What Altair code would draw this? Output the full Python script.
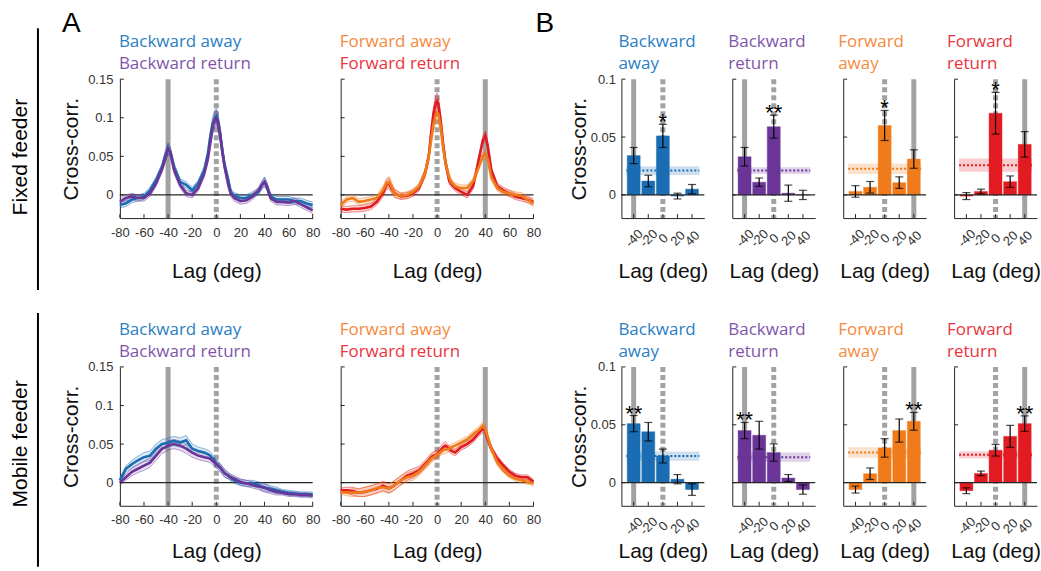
import altair as alt
import pandas as pd

# ---------------- data: cross-correlation curves (panel A) ----------------
LAGS = [-80, -75, -70, -65, -60, -55, -50, -45, -42, -40, -38,
        -35, -30, -25, -20, -15, -10, -7, -5, -3, -1, 0,
        1, 3, 5, 7, 10, 12, 15, 20, 25, 30, 35,
        38, 40, 42, 45, 50, 55, 60, 65, 70, 75, 80]

FIX_BACK_AWAY = [-0.013, -0.011, -0.006, -0.004, -0.002, 0.006, 0.019, 0.036, 0.053, 0.060, 0.055,
                 0.036, 0.017, 0.013, 0.006, 0.015, 0.032, 0.053, 0.075, 0.092, 0.100, 0.102,
                 0.098, 0.082, 0.058, 0.038, 0.019, 0.004, -0.001, -0.004, -0.004, 0.000, 0.004,
                 0.013, 0.017, 0.011, -0.002, -0.006, -0.006, -0.006, -0.008, -0.008, -0.011, -0.013]
FIX_BACK_RET = [-0.009, -0.004, -0.002, -0.004, -0.004, 0.002, 0.015, 0.034, 0.049, 0.060, 0.055,
                0.032, 0.013, 0.002, 0.000, 0.009, 0.028, 0.047, 0.068, 0.088, 0.098, 0.100,
                0.096, 0.080, 0.056, 0.036, 0.013, 0.002, -0.004, -0.008, -0.007, -0.002, 0.006,
                0.013, 0.017, 0.011, -0.004, -0.009, -0.009, -0.010, -0.008, -0.012, -0.016, -0.020]
FIX_FWD_AWAY = [-0.013, -0.006, -0.004, -0.009, -0.008, -0.006, -0.004, 0.006, 0.015, 0.017, 0.011,
                0.001, -0.001, 0.000, 0.004, 0.011, 0.028, 0.049, 0.071, 0.092, 0.104, 0.107,
                0.105, 0.088, 0.062, 0.041, 0.023, 0.016, 0.011, 0.009, 0.009, 0.018, 0.038,
                0.051, 0.053, 0.047, 0.023, 0.009, 0.004, 0.002, 0.000, -0.001, -0.006, -0.011]
FIX_FWD_RET = [-0.018, -0.019, -0.018, -0.018, -0.017, -0.015, -0.009, 0.002, 0.013, 0.015, 0.009,
               0.002, -0.002, -0.001, 0.002, 0.009, 0.028, 0.049, 0.079, 0.105, 0.120, 0.122,
               0.118, 0.096, 0.066, 0.042, 0.019, 0.014, 0.009, 0.004, 0.000, 0.012, 0.049,
               0.071, 0.077, 0.064, 0.032, 0.011, 0.006, 0.002, -0.002, -0.004, -0.006, -0.009]
MOB_BACK_AWAY = [0.003, 0.018, 0.024, 0.029, 0.033, 0.035, 0.044, 0.050, 0.051, 0.052, 0.053,
                 0.054, 0.052, 0.055, 0.044, 0.041, 0.039, 0.037, 0.035, 0.031, 0.027, 0.024,
                 0.023, 0.020, 0.016, 0.012, 0.009, 0.006, 0.003, 0.000, -0.001, -0.001, -0.003,
                 -0.005, -0.006, -0.007, -0.008, -0.010, -0.012, -0.013, -0.014, -0.015, -0.015, -0.015]
MOB_BACK_RET = [0.000, 0.007, 0.014, 0.018, 0.022, 0.026, 0.035, 0.044, 0.046, 0.048, 0.049,
                0.050, 0.048, 0.044, 0.039, 0.035, 0.033, 0.032, 0.031, 0.028, 0.026, 0.024,
                0.023, 0.020, 0.016, 0.012, 0.009, 0.007, 0.005, 0.001, -0.001, -0.003, -0.005,
                -0.006, -0.007, -0.008, -0.010, -0.012, -0.013, -0.015, -0.015, -0.016, -0.016, -0.017]
MOB_FWD_AWAY = [-0.012, -0.013, -0.013, -0.013, -0.012, -0.010, -0.007, -0.006, -0.007, -0.008, -0.006,
                -0.003, 0.003, 0.007, 0.009, 0.014, 0.022, 0.027, 0.031, 0.033, 0.035, 0.036,
                0.037, 0.040, 0.042, 0.043, 0.044, 0.046, 0.048, 0.052, 0.056, 0.063, 0.069,
                0.074, 0.069, 0.059, 0.044, 0.026, 0.016, 0.009, 0.005, 0.003, 0.001, -0.001]
MOB_FWD_RET = [-0.010, -0.010, -0.011, -0.013, -0.012, -0.010, -0.008, -0.004, -0.006, -0.007, -0.006,
               -0.003, 0.003, 0.009, 0.012, 0.016, 0.024, 0.029, 0.033, 0.035, 0.036, 0.037,
               0.039, 0.042, 0.046, 0.048, 0.044, 0.041, 0.039, 0.046, 0.050, 0.056, 0.065,
               0.070, 0.067, 0.056, 0.044, 0.031, 0.022, 0.014, 0.009, 0.007, 0.007, 0.001]
SEM_FIX = [0.004, 0.004, 0.004, 0.004, 0.004, 0.004, 0.004, 0.005, 0.006, 0.007, 0.006,
           0.005, 0.004, 0.004, 0.004, 0.004, 0.005, 0.006, 0.008, 0.009, 0.010, 0.010,
           0.010, 0.009, 0.008, 0.006, 0.005, 0.004, 0.004, 0.004, 0.004, 0.004, 0.004,
           0.005, 0.006, 0.005, 0.004, 0.004, 0.004, 0.004, 0.004, 0.004, 0.004, 0.004]
SEM_MOB = [0.003, 0.004, 0.005, 0.005, 0.006, 0.006, 0.006, 0.006, 0.006, 0.006, 0.006,
           0.006, 0.006, 0.006, 0.006, 0.005, 0.005, 0.005, 0.005, 0.005, 0.005, 0.005,
           0.005, 0.005, 0.005, 0.005, 0.004, 0.004, 0.004, 0.004, 0.004, 0.004, 0.004,
           0.005, 0.005, 0.005, 0.004, 0.004, 0.003, 0.003, 0.003, 0.003, 0.003, 0.003]

# ---------------- data: bar summaries (panel B) ----------------
BAR_LAGS = [-40, -20, 0, 20, 40]

FIX_BA_MEAN = [0.034, 0.012, 0.051, -0.001, 0.005]
FIX_BA_ERR = [0.007, 0.005, 0.010, 0.0025, 0.004]
FIX_BR_MEAN = [0.033, 0.011, 0.059, 0.0015, 0.000]
FIX_BR_ERR = [0.008, 0.0036, 0.010, 0.007, 0.004]
FIX_FA_MEAN = [0.003, 0.0066, 0.060, 0.0106, 0.031]
FIX_FA_ERR = [0.005, 0.005, 0.013, 0.005, 0.008]
FIX_FR_MEAN = [-0.001, 0.003, 0.0706, 0.0114, 0.0437]
FIX_FR_ERR = [0.003, 0.002, 0.018, 0.005, 0.011]
FIX_BASE = [0.021, 0.021, 0.0226, 0.0257]
FIX_BASE_ERR = [0.0037, 0.003, 0.0046, 0.0057]
FIX_STARS = [["", "", "*", "", ""], ["", "", "**", "", ""],
             ["", "", "*", "", ""], ["", "", "*", "", ""]]

MOB_BA_MEAN = [0.051, 0.044, 0.023, 0.003, -0.006]
MOB_BA_ERR = [0.007, 0.008, 0.006, 0.004, 0.005]
MOB_BR_MEAN = [0.045, 0.041, 0.026, 0.004, -0.006]
MOB_BR_ERR = [0.007, 0.012, 0.0075, 0.003, 0.004]
MOB_FA_MEAN = [-0.006, 0.0077, 0.030, 0.045, 0.053]
MOB_FA_ERR = [0.003, 0.005, 0.008, 0.010, 0.0077]
MOB_FR_MEAN = [-0.007, 0.008, 0.028, 0.040, 0.051]
MOB_FR_ERR = [0.0025, 0.002, 0.005, 0.0095, 0.0067]
MOB_BASE = [0.023, 0.022, 0.026, 0.024]
MOB_BASE_ERR = [0.004, 0.004, 0.0045, 0.003]
MOB_STARS = [["**", "", "", "", ""], ["**", "", "", "", ""],
             ["", "", "", "", "**"], ["", "", "", "", "**"]]

SERIES_NAMES = ["Backward away", "Backward return", "Forward away", "Forward return"]
B_TITLES = [["Backward", "away"], ["Backward", "return"], ["Forward", "away"], ["Forward", "return"]]

# ---------------- style ----------------
BLUE, PURPLE, ORANGE, RED = "#1a6db3", "#6b3598", "#ef7b1a", "#e21b23"
BLUE_T, PURPLE_T, ORANGE_T, RED_T = "#2a80c4", "#7f55ab", "#f58a3c", "#ea3540"
COLORS = [BLUE, PURPLE, ORANGE, RED]
TCOLORS = [BLUE_T, PURPLE_T, ORANGE_T, RED_T]
FONT = "Liberation Sans"
TFONT = "Open Sans"
AXC = "#262626"
GRAY = "#a2a2a2"
W_A, W_B, H = 193, 83, 139


def lbl(text, x, y, color="black", size=17, font=TFONT, align="left", baseline="alphabetic", angle=0):
    return alt.Chart(pd.DataFrame({"t": [text]})).mark_text(
        color=color, fontSize=size, font=font, align=align, baseline=baseline, angle=angle
    ).encode(x=alt.value(x), y=alt.value(y), text="t:N")


def line_panel(series, sem, solid_ref, show_y, extras, title_y):
    xs = alt.Scale(domain=[-80, 80], nice=False, zero=False)
    ys = alt.Scale(domain=[-0.03, 0.15], nice=False, zero=False)
    xax = alt.Axis(values=[-80, -60, -40, -20, 0, 20, 40, 60, 80], labelExpr="'' + datum.value",
                   labelFlush=False, labelOverlap=False, ticks=False, tickSize=0, labelPadding=8,
                   title="Lag (deg)", titleX=W_A / 2, titleY=title_y, titleAlign="center",
                   titleBaseline="middle", titleAngle=0)
    if show_y:
        yax = alt.Axis(values=[0, 0.05, 0.1, 0.15], labelExpr="'' + datum.value", ticks=False,
                       tickSize=0, labelPadding=7, title="Cross-corr.", titleX=-48, titleY=H / 2,
                       titleAngle=270, titleAlign="center", titleBaseline="middle")
    else:
        yax = alt.Axis(values=[0, 0.05, 0.1, 0.15], labels=False, ticks=False, tickSize=0, title="")

    def X(f):
        return alt.X(f"{f}:Q", scale=xs, axis=xax)

    def Y(f):
        return alt.Y(f"{f}:Q", scale=ys, axis=yax)

    layers = []
    layers.append(alt.Chart(pd.DataFrame({"lag": [solid_ref]})).mark_rule(
        color=GRAY, strokeWidth=5).encode(x=X("lag")))
    layers.append(alt.Chart(pd.DataFrame({"lag": [0]})).mark_rule(
        color=GRAY, strokeWidth=5, strokeDash=[5, 3]).encode(x=X("lag")))
    layers.append(alt.Chart(pd.DataFrame({"val": [0]})).mark_rule(
        color=AXC, strokeWidth=1.2).encode(y=Y("val")))
    frames = []
    for vals, color in series:
        df = pd.DataFrame({"lag": LAGS, "val": vals, "sem": sem})
        df["lo"] = df["val"] - df["sem"]
        df["hi"] = df["val"] + df["sem"]
        frames.append((df, color))
    for df, color in frames:
        layers.append(alt.Chart(df).mark_area(color=color, opacity=0.15).encode(
            x=X("lag"), y=Y("lo"), y2="hi"))
    for df, color in frames:
        for f in ("lo", "hi"):
            layers.append(alt.Chart(df).mark_line(color=color, strokeWidth=0.9, opacity=0.55).encode(
                x=X("lag"), y=Y(f)))
    for df, color in frames:
        layers.append(alt.Chart(df).mark_line(color=color, strokeWidth=2.6).encode(
            x=X("lag"), y=Y("val")))
    # inward ticks
    layers.append(alt.Chart(pd.DataFrame({"lag": [-80, -60, -40, -20, 0, 20, 40, 60, 80]})).mark_rule(
        color=AXC, strokeWidth=1).encode(x=X("lag"), y=alt.value(H), y2=alt.value(H - 4)))
    layers.append(alt.Chart(pd.DataFrame({"val": [0, 0.05, 0.1, 0.15]})).mark_rule(
        color=AXC, strokeWidth=1).encode(y=Y("val"), x=alt.value(0), x2=alt.value(4)))
    layers.extend(extras)
    return alt.layer(*layers).properties(width=W_A, height=H)


def bar_panel(means, errs, base, base_err, color, stars, solid_ref, show_y, extras, title_y):
    xs = alt.Scale(domain=[-50, 50], nice=False, zero=False)
    ys = alt.Scale(domain=[-0.02, 0.1], nice=False, zero=False)
    xax = alt.Axis(values=BAR_LAGS, labelExpr="'' + datum.value", labelAngle=315, labelAlign="center",
                   labelBaseline="middle", labelPadding=20, labelFlush=False, labelOverlap=False,
                   ticks=False, tickSize=0, title="Lag (deg)", titleX=W_B / 2, titleY=title_y,
                   titleAlign="center", titleBaseline="middle", titleAngle=0)
    if show_y:
        yax = alt.Axis(values=[0, 0.05, 0.1], labelExpr="'' + datum.value", ticks=False, tickSize=0,
                       labelPadding=6, title="Cross-corr.", titleX=-42, titleY=H / 2, titleAngle=270,
                       titleAlign="center", titleBaseline="middle")
    else:
        yax = alt.Axis(values=[0, 0.05, 0.1], labels=False, ticks=False, tickSize=0, title="")

    def X(f):
        return alt.X(f"{f}:Q", scale=xs, axis=xax)

    def Y(f):
        return alt.Y(f"{f}:Q", scale=ys, axis=yax)

    df = pd.DataFrame({"lag": BAR_LAGS, "val": means, "err": errs, "star": stars})
    df["lo"] = df["val"] - df["err"]
    df["hi"] = df["val"] + df["err"]
    band = pd.DataFrame({"lag": [-50], "lag2": [50], "val": [base - base_err], "hi": [base + base_err]})
    dotted = pd.DataFrame({"lag": [-50], "lag2": [50], "val": [base]})

    layers = [
        alt.Chart(pd.DataFrame({"lag": [solid_ref]})).mark_rule(color=GRAY, strokeWidth=5).encode(x=X("lag")),
        alt.Chart(pd.DataFrame({"lag": [0]})).mark_rule(color=GRAY, strokeWidth=5, strokeDash=[5, 3]).encode(x=X("lag")),
        alt.Chart(band).mark_rect(color=color, opacity=0.22).encode(x=X("lag"), x2="lag2", y=Y("val"), y2="hi"),
        alt.Chart(dotted).mark_rule(color=color, strokeWidth=2, strokeDash=[2, 2]).encode(x=X("lag"), x2="lag2", y=Y("val")),
        alt.Chart(df).mark_bar(size=13, color=color, stroke=color, strokeOpacity=0.4, strokeWidth=1).encode(x=X("lag"), y=Y("val")),
        alt.Chart(pd.DataFrame({"val": [0]})).mark_rule(color=AXC, strokeWidth=1.2).encode(y=Y("val")),
        alt.Chart(df).mark_rule(color="black", strokeWidth=1.2).encode(x=X("lag"), y=Y("lo"), y2="hi"),
        alt.Chart(df).mark_tick(color="black", orient="horizontal", size=8, thickness=1.2).encode(x=X("lag"), y=Y("lo")),
        alt.Chart(df).mark_tick(color="black", orient="horizontal", size=8, thickness=1.2).encode(x=X("lag"), y=Y("hi")),
        alt.Chart(df).mark_text(color="black", fontSize=22, font=FONT, align="center", baseline="alphabetic", dy=5).encode(
            x=X("lag"), y=Y("hi"), text="star:N"),
        alt.Chart(pd.DataFrame({"lag": BAR_LAGS})).mark_rule(color=AXC, strokeWidth=1).encode(
            x=X("lag"), y=alt.value(H), y2=alt.value(H - 4)),
        alt.Chart(pd.DataFrame({"val": [0, 0.05, 0.1]})).mark_rule(color=AXC, strokeWidth=1).encode(
            y=Y("val"), x=alt.value(0), x2=alt.value(4)),
    ]
    layers.extend(extras)
    return alt.layer(*layers).properties(width=W_B, height=H)


def spacer():
    return alt.Chart(pd.DataFrame({"v": [0]})).mark_point(opacity=0).encode(
        x=alt.X("v:Q", axis=None), y=alt.Y("v:Q", axis=None)).properties(width=32, height=H)


B_DX = [-3, -4, -5, -7]


def build_row(fixed):
    if fixed:
        curves_b = [(FIX_BACK_AWAY, BLUE), (FIX_BACK_RET, PURPLE)]
        curves_f = [(FIX_FWD_RET, RED), (FIX_FWD_AWAY, ORANGE)]
        sem = SEM_FIX
        means = [FIX_BA_MEAN, FIX_BR_MEAN, FIX_FA_MEAN, FIX_FR_MEAN]
        errs = [FIX_BA_ERR, FIX_BR_ERR, FIX_FA_ERR, FIX_FR_ERR]
        base, base_err, stars = FIX_BASE, FIX_BASE_ERR, FIX_STARS
        row_label = "Fixed feeder"
        ly, l0, l1 = 78, -51, 211
        ty = 53
    else:
        curves_b = [(MOB_BACK_AWAY, BLUE), (MOB_BACK_RET, PURPLE)]
        curves_f = [(MOB_FWD_RET, RED), (MOB_FWD_AWAY, ORANGE)]
        sem = SEM_MOB
        means = [MOB_BA_MEAN, MOB_BR_MEAN, MOB_FA_MEAN, MOB_FR_MEAN]
        errs = [MOB_BA_ERR, MOB_BR_ERR, MOB_FA_ERR, MOB_FR_ERR]
        base, base_err, stars = MOB_BASE, MOB_BASE_ERR, MOB_STARS
        row_label = "Mobile feeder"
        ly, l0, l1 = 77, -54, 200
        ty = 46

    extras_a1 = [
        lbl(SERIES_NAMES[0], -1, -32, BLUE_T),
        lbl(SERIES_NAMES[1], -1, -10, PURPLE_T),
        lbl(row_label, -99, ly, "black", 21, FONT, "center", "middle", 270),
        alt.Chart(pd.DataFrame({"v": [0]})).mark_rule(color="black", strokeWidth=2).encode(
            x=alt.value(-82), y=alt.value(l0), y2=alt.value(l1)),
    ]
    if fixed:
        extras_a1.append(lbl("A", -58, -47, "black", 28, FONT))
    extras_a2 = [
        lbl(SERIES_NAMES[2], -1, -32, ORANGE_T),
        lbl(SERIES_NAMES[3], -1, -10, RED_T),
    ]
    a1 = line_panel(curves_b, sem, -40, True, extras_a1, ty)
    a2 = line_panel(curves_f, sem, 40, False, extras_a2, ty)

    bars = []
    for i in range(4):
        ex = [lbl(B_TITLES[i][0], B_DX[i], -32, TCOLORS[i]), lbl(B_TITLES[i][1], B_DX[i], -10, TCOLORS[i])]
        if fixed and i == 0:
            ex.append(lbl("B", -86, -47, "black", 28, FONT))
        bars.append(bar_panel(means[i], errs[i], base[i], base_err[i], COLORS[i], stars[i],
                              -40 if i < 2 else 40, i == 0, ex, ty))
    return [a1, a2, spacer()] + bars


charts = build_row(True) + build_row(False)

chart = alt.concat(*charts, columns=7, spacing={"row": 149, "column": 28}, bounds="flush").properties(
    padding={"left": 10, "top": 10, "right": 0, "bottom": 0}
).configure_view(stroke=None).configure_axis(
    domainColor=AXC, domainWidth=1, labelColor="#333333", labelFont=FONT, labelFontSize=13,
    titleFont=FONT, titleFontSize=21, titleFontWeight="normal", titleColor="#111111", grid=False
)

chart.save("out.html", embed_options={"renderer": "svg", "actions": False})
